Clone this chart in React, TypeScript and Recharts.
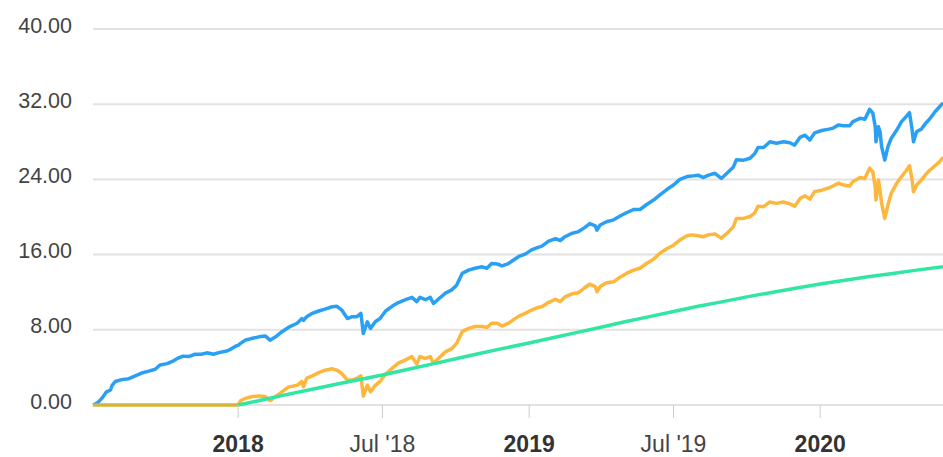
import { CartesianGrid, Line, LineChart, XAxis, YAxis } from "recharts";

// fund vs benchmark, cumulative return (%)
const dates = [
	"2017-07-03", "2017-07-09", "2017-07-14", "2017-07-20", "2017-07-25", "2017-07-27", "2017-07-31",
	"2017-08-08", "2017-08-17", "2017-08-25", "2017-09-02", "2017-09-11", "2017-09-19", "2017-09-25",
	"2017-10-04", "2017-10-12", "2017-10-18", "2017-10-24", "2017-10-31", "2017-11-08", "2017-11-16",
	"2017-11-23", "2017-12-01", "2017-12-09", "2017-12-18", "2017-12-24", "2017-12-30", "2018-01-01",
	"2018-01-04", "2018-01-10", "2018-01-19", "2018-01-27", "2018-02-04", "2018-02-10", "2018-02-17",
	"2018-02-25", "2018-03-05", "2018-03-16", "2018-03-22", "2018-03-24", "2018-03-28", "2018-04-04",
	"2018-04-12", "2018-04-20", "2018-04-29", "2018-05-05", "2018-05-11", "2018-05-18", "2018-05-24",
	"2018-05-30", "2018-06-04", "2018-06-07", "2018-06-12", "2018-06-16", "2018-06-22", "2018-06-28",
	"2018-07-05", "2018-07-13", "2018-07-21", "2018-07-30", "2018-08-07", "2018-08-13", "2018-08-17",
	"2018-08-24", "2018-08-30", "2018-09-03", "2018-09-09", "2018-09-18", "2018-09-26", "2018-10-02",
	"2018-10-09", "2018-10-17", "2018-10-25", "2018-11-03", "2018-11-09", "2018-11-15", "2018-11-22",
	"2018-11-28", "2018-12-06", "2018-12-12", "2018-12-19", "2018-12-27", "2019-01-04", "2019-01-13",
	"2019-01-17", "2019-01-25", "2019-02-03", "2019-02-09", "2019-02-15", "2019-02-23", "2019-03-04",
	"2019-03-12", "2019-03-18", "2019-03-25", "2019-03-27", "2019-03-31", "2019-04-08", "2019-04-17",
	"2019-04-25", "2019-05-03", "2019-05-12", "2019-05-20", "2019-05-28", "2019-06-06", "2019-06-14",
	"2019-06-23", "2019-07-01", "2019-07-09", "2019-07-18", "2019-07-24", "2019-08-01", "2019-08-07",
	"2019-08-14", "2019-08-22", "2019-08-30", "2019-09-06", "2019-09-14", "2019-09-18", "2019-09-27",
	"2019-10-05", "2019-10-11", "2019-10-15", "2019-10-22", "2019-10-30", "2019-11-07", "2019-11-16",
	"2019-11-24", "2019-11-30", "2019-12-07", "2019-12-13", "2019-12-19", "2019-12-25", "2020-01-03",
	"2020-01-12", "2020-01-17", "2020-01-24", "2020-01-30", "2020-02-07", "2020-02-11", "2020-02-20",
	"2020-02-26", "2020-03-03", "2020-03-07", "2020-03-10", "2020-03-11", "2020-03-14", "2020-03-16",
	"2020-03-18", "2020-03-22", "2020-03-26", "2020-03-30", "2020-04-06", "2020-04-12", "2020-04-18",
	"2020-04-22", "2020-04-25", "2020-04-27", "2020-05-01", "2020-05-07", "2020-05-12", "2020-05-17",
	"2020-05-24", "2020-05-30", "2020-06-03",
];

const fund = [
	0, 0.25, 0.7, 1.4, 1.6, 2.1, 2.5,
	2.7, 2.8, 3.1, 3.4, 3.6, 3.8, 4.25,
	4.4, 4.7, 5.0, 5.2, 5.15, 5.4, 5.4,
	5.55, 5.4, 5.6, 5.75, 6.0, 6.3, 6.35,
	6.55, 6.9, 7.1, 7.25, 7.35, 6.9, 7.25,
	7.8, 8.25, 8.7, 9.2, 9.0, 9.4, 9.75,
	10.0, 10.2, 10.45, 10.5, 10.1, 9.2, 9.4,
	9.4, 9.75, 7.6, 8.85, 8.15, 8.85, 9.2,
	10.0, 10.5, 10.9, 11.2, 11.45, 11.0, 11.45,
	11.2, 11.45, 10.8, 11.25, 11.9, 12.25, 12.75,
	14.0, 14.35, 14.55, 14.7, 14.55, 15.05, 15.0,
	14.8, 15.05, 15.4, 15.8, 16.05, 16.5, 16.8,
	16.9, 17.4, 17.7, 17.5, 17.9, 18.25, 18.45,
	18.9, 19.3, 19.05, 18.6, 19.15, 19.5, 19.7,
	20.1, 20.45, 20.8, 20.8, 21.3, 21.8, 22.35,
	22.95, 23.4, 24.0, 24.3, 24.35, 24.45, 24.2,
	24.45, 24.65, 24.1, 24.65, 25.3, 26.1, 26.05,
	26.25, 26.75, 27.4, 27.4, 28.0, 27.85, 28.0,
	27.9, 27.65, 28.5, 28.7, 28.2, 28.95, 29.2,
	29.35, 29.45, 29.8, 29.7, 29.7, 30.15, 30.5,
	30.4, 31.45, 31.05, 29.6, 28.0, 29.6, 29.1,
	27.5, 26.05, 27.5, 28.35, 29.25, 30.15, 30.7,
	31.1, 29.45, 28.0, 29.1, 29.35, 29.95, 30.4,
	31.2, 31.75, 32.15,
];

const benchmark = [
	0, 0, 0, 0, 0, 0, 0,
	0, 0, 0, 0, 0, 0, 0,
	0, 0, 0, 0, 0, 0, 0,
	0, 0, 0, 0, 0, 0, 0,
	0.45, 0.7, 0.9, 0.95, 0.9, 0.45, 0.9,
	1.4, 1.9, 2.1, 2.5, 1.95, 2.85, 3.1,
	3.45, 3.7, 3.85, 3.7, 3.35, 2.65, 2.65,
	2.85, 3.1, 0.95, 2.1, 1.4, 2.1, 2.5,
	3.3, 3.9, 4.45, 4.8, 5.15, 4.35, 5.15,
	4.95, 5.15, 4.45, 4.95, 5.65, 6.0, 6.55,
	7.8, 8.15, 8.35, 8.35, 8.25, 8.7, 8.7,
	8.4, 8.7, 9.05, 9.45, 9.75, 10.1, 10.4,
	10.45, 10.9, 11.25, 11.0, 11.5, 11.8, 11.95,
	12.5, 12.85, 12.6, 12.05, 12.6, 13.0, 13.1,
	13.6, 14.0, 14.35, 14.55, 15.05, 15.5, 16.15,
	16.65, 17.0, 17.55, 18.0, 18.1, 18.0, 17.9,
	18.1, 18.2, 17.75, 18.25, 18.95, 19.85, 19.85,
	20.05, 20.45, 21.15, 21.1, 21.6, 21.45, 21.6,
	21.4, 21.15, 22.0, 22.25, 21.9, 22.7, 22.85,
	23.1, 23.3, 23.6, 23.4, 23.3, 23.75, 24.2,
	24.1, 25.2, 24.8, 23.2, 21.8, 23.95, 22.85,
	21.45, 19.85, 21.3, 22.5, 23.6, 24.3, 24.95,
	25.45, 24.1, 22.7, 23.4, 23.95, 24.5, 24.95,
	25.45, 25.9, 26.35,
];

const targetDates = [
	"2018-01-01", "2018-02-01", "2018-03-01", "2018-04-01", "2018-05-01", "2018-06-01",
	"2018-07-01", "2018-08-01", "2018-09-01", "2018-10-01", "2018-11-01", "2018-12-01",
	"2019-01-01", "2019-02-01", "2019-03-01", "2019-04-01", "2019-05-01", "2019-06-01",
	"2019-07-01", "2019-08-01", "2019-09-01", "2019-10-01", "2019-11-01", "2019-12-01",
	"2020-01-01", "2020-02-01", "2020-03-01", "2020-04-01", "2020-05-01", "2020-06-03",
];

const target = [
	0, 0.55, 1.08, 1.62, 2.15, 2.68,
	3.2, 3.77, 4.35, 4.92, 5.5, 6.05,
	6.6, 7.18, 7.7, 8.27, 8.85, 9.4,
	9.95, 10.5, 11.0, 11.5, 11.97, 12.43,
	12.87, 13.28, 13.65, 14.0, 14.35, 14.7,
];

const xTickDates = ["2018-01-01", "2018-07-01", "2019-01-01", "2019-07-01", "2020-01-01"];
const xTickLabels = ["2018", "Jul '18", "2019", "Jul '19", "2020"];
const yTicks = [0, 8, 16, 24, 32, 40];

const toTime = (d: string) => new Date(d).getTime();

const mainData = dates.map((d, i) => ({ t: toTime(d), fund: fund[i], benchmark: benchmark[i] }));
const targetData = targetDates.map((d, i) => ({ t: toTime(d), target: target[i] }));

const startT = toTime(dates[0]);
const endT = toTime(dates[dates.length - 1]);
// benchmark line is drawn darker before it starts moving
const benchStart = (toTime("2018-01-01") - startT) / (endT - startT);

const font = "'Liberation Sans', Arial, Helvetica, sans-serif";

const YTick = ({ x, y, payload }: any) => (
	<text x={x} y={y} dy={3.5} textAnchor="end" fill="#444" fontSize={21.5} fontFamily={font}>
		{Number(payload.value).toFixed(2)}
	</text>
);

const XTick = ({ x, y, payload }: any) => {
	const idx = xTickDates.findIndex((d) => toTime(d) === payload.value);
	const label = idx >= 0 ? xTickLabels[idx] : "";
	const isYear = !label.includes("'");
	return (
		<text
			x={x}
			y={y}
			dy={34}
			textAnchor="middle"
			fill={isYear ? "#333" : "#444"}
			fontSize={23}
			fontWeight={isYear ? "bold" : "normal"}
			fontFamily={font}
		>
			{label}
		</text>
	);
};

export default function App() {
	return (
		<div style={{ position: "absolute", left: 0, top: 0, width: 943, height: 457, background: "#fff" }}>
			<LineChart width={943} height={457} data={mainData} margin={{ top: 29, right: 0, bottom: 0, left: 0 }}>
				<defs>
					<linearGradient id="benchGrad" x1="0" y1="0" x2="1" y2="0">
						<stop offset={benchStart} stopColor="#d6b43a" />
						<stop offset={benchStart} stopColor="#fdb73d" />
					</linearGradient>
				</defs>
				<CartesianGrid vertical={false} stroke="#e2e2e2" strokeWidth={2} />
				<XAxis
					dataKey="t"
					type="number"
					domain={[startT, endT]}
					ticks={xTickDates.map(toTime)}
					interval={0}
					height={52}
					tickSize={13}
					tickMargin={0}
					axisLine={false}
					tickLine={{ stroke: "#cccccc", strokeWidth: 1 }}
					tick={<XTick />}
				/>
				<YAxis
					domain={[0, 40]}
					ticks={yTicks}
					width={93}
					axisLine={false}
					tickLine={false}
					tickSize={0}
					tickMargin={21}
					tick={<YTick />}
				/>
				<Line
					dataKey="fund"
					stroke="#2aa0f5"
					strokeWidth={3.5}
					dot={false}
					activeDot={false}
					strokeLinejoin="round"
					isAnimationActive={false}
				/>
				<Line
					dataKey="benchmark"
					stroke="url(#benchGrad)"
					strokeWidth={3.5}
					dot={false}
					activeDot={false}
					strokeLinejoin="round"
					isAnimationActive={false}
				/>
				<Line
					data={targetData}
					dataKey="target"
					stroke="#30e6a2"
					strokeWidth={3.5}
					dot={false}
					activeDot={false}
					isAnimationActive={false}
				/>
			</LineChart>
		</div>
	);
}
